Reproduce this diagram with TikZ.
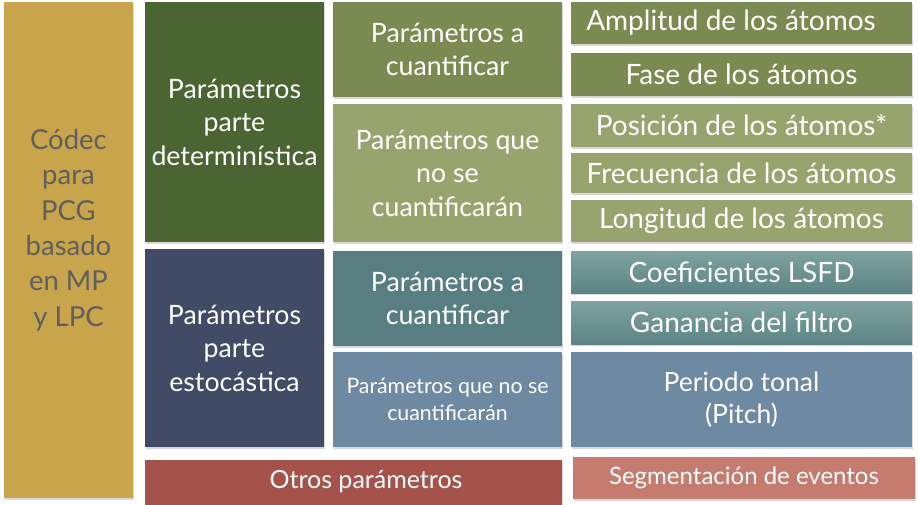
\documentclass[tikz,border=0pt]{standalone}
\usepackage{fontspec}
\setmainfont{Lato}
\usetikzlibrary{shadows}

\definecolor{gold}{HTML}{C8A54B}
\definecolor{darkgreen}{HTML}{4A6531}
\definecolor{olive}{HTML}{7B8A50}
\definecolor{lightolive}{HTML}{98A46D}
\definecolor{navy}{HTML}{414B66}
\definecolor{teal}{HTML}{577F81}
\definecolor{tealtop}{HTML}{7EA3A0}
\definecolor{tealbot}{HTML}{5B8483}
\definecolor{slate}{HTML}{6E8AA3}
\definecolor{brick}{HTML}{A5524A}
\definecolor{salmon}{HTML}{C57B6D}
\definecolor{codecgray}{HTML}{5F5F5F}

\tikzset{
  cell/.style={inner sep=0pt, align=center, text=white,
    drop shadow={shadow xshift=0.8pt, shadow yshift=-1.8pt, opacity=0.3},
    font=\fontsize{26.7}{33.5}\selectfont},
  atom/.style={cell, font=\fontsize{28}{32}\selectfont},
  small/.style={font=\fontsize{21.3}{27}\selectfont}
}

\begin{document}
\begin{tikzpicture}[x=1pt,y=-1pt]
  \useasboundingbox[fill=white] (0,0) rectangle (918,504);

  % Codec column
  \node[cell, fill=gold, text=codecgray, minimum width=129pt, minimum height=496pt,
        font=\fontsize{27}{35.3}\selectfont] (codec) at (68.5,250) {};
  \node[text=codecgray, align=center, font=\fontsize{27.5}{35.3}\selectfont] (codectext) at (68.5,230)
    {Códec\\para\\PCG\\basado\\en MP\\y LPC};

  % Second column
  \node[cell, fill=darkgreen, minimum width=179pt, minimum height=240pt] (det) at (234.5,122)
    {Parámetros\\parte\\determinística};
  \node[cell, fill=navy, minimum width=179pt, minimum height=198pt] (est) at (234.5,348)
    {Parámetros\\parte\\estocástica};
  \node[cell, fill=brick, minimum width=417pt, minimum height=50pt] (otros) at (353.5,485) {};
  \node[text=white, font=\fontsize{25}{30}\selectfont] (otrostext) at (366,482) {Otros parámetros};

  % Third column
  \node[cell, fill=olive, minimum width=229pt, minimum height=95pt] (detq) at (447.5,49.5)
    {Parámetros a\\cuantificar};
  \node[cell, fill=lightolive, minimum width=229pt, minimum height=138pt] (detnq) at (447.5,173)
    {Parámetros que\\no se\\cuantificarán};
  \node[cell, fill=teal, minimum width=229pt, minimum height=95pt] (estq) at (447.5,298.5)
    {Parámetros a\\cuantificar};
  \node[cell, small, fill=slate, minimum width=229pt, minimum height=95pt] (estnq) at (447.5,399.5)
    {Parámetros que no se\\cuantificarán};

  % Fourth column
  \node[atom, fill=olive, minimum width=341pt, minimum height=42pt] (amp) at (741.5,23) {};
  \node[text=white, font=\fontsize{28}{32}\selectfont] (amptext) at (731,23) {Amplitud de los átomos};
  \node[atom, fill=olive, minimum width=341pt, minimum height=43pt] (fase) at (741.5,74.5)
    {Fase de los átomos};
  \node[atom, fill=lightolive, minimum width=341pt, minimum height=43pt] (pos) at (741.5,125.5)
    {Posición de los átomos*};
  \node[atom, fill=lightolive, minimum width=341pt, minimum height=40pt] (frec) at (741.5,173)
    {Frecuencia de los átomos};
  \node[atom, fill=lightolive, minimum width=341pt, minimum height=42pt] (long) at (741.5,221)
    {Longitud de los átomos};
  \node[atom, top color=tealtop, bottom color=tealbot, minimum width=341pt, minimum height=42pt] (lsfd) at (741.5,272)
    {Coeficientes LSFD};
  \node[atom, top color=tealtop, bottom color=tealbot, minimum width=341pt, minimum height=43pt] (gan) at (741.5,322.5)
    {Ganancia del filtro};
  \node[atom, fill=slate, minimum width=341pt, minimum height=95pt, font=\fontsize{26.5}{32}\selectfont] (pitch) at (741.5,399.5)
    {Periodo tonal\\(Pitch)};
  \node[atom, fill=salmon, minimum width=342pt, minimum height=42pt, font=\fontsize{24}{30}\selectfont] (seg) at (744,478)
    {Segmentación de eventos};
\end{tikzpicture}
\end{document}
